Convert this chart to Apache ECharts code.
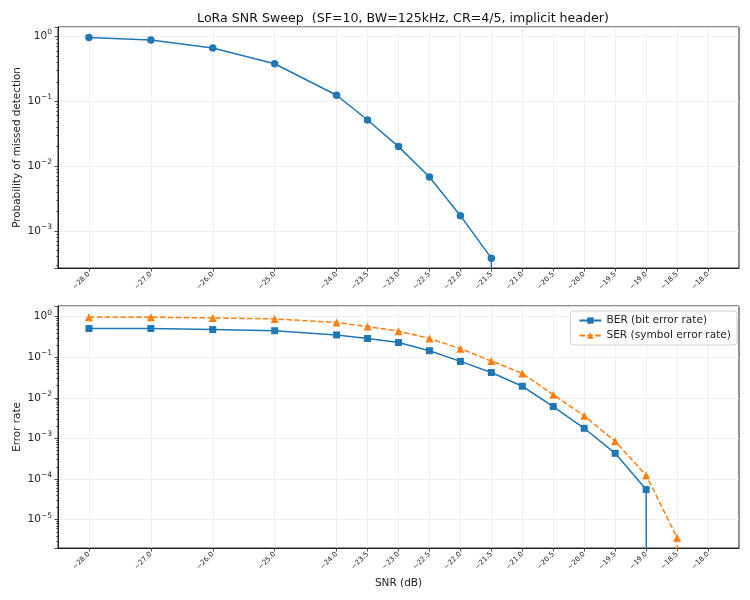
<!DOCTYPE html>
<html>
<head>
<meta charset="utf-8">
<script src="https://cdn.jsdelivr.net/npm/echarts@6/dist/echarts.min.js"></script>
<style>html,body{margin:0;padding:0;background:#fff}#c{width:750px;height:600px}</style>
</head>
<body>
<div id="c"></div>
<script>
const SNR = [-28, -27, -26, -25, -24, -23.5, -23, -22.5, -22, -21.5, -21, -20.5, -20, -19.5, -19, -18.5, -18];
const X_TICKS = [-28, -27, -26, -25, -24, -23.5, -23, -22.5, -22, -21.5, -21, -20.5, -20, -19.5, -19, -18.5, -18];
const P_MISS = [0.96, 0.88, 0.665, 0.38, 0.124, 0.0514, 0.020, 0.0068, 0.00172, 0.00038, 0, 0, 0, 0, 0, 0, 0];
const BER = [0.51, 0.51, 0.48, 0.45, 0.355, 0.29, 0.23, 0.145, 0.079, 0.042, 0.0193, 0.0061, 0.00178, 0.00043, 0.000055, 0, 0];
const SER = [0.97, 0.97, 0.93, 0.88, 0.72, 0.57, 0.44, 0.29, 0.163, 0.081, 0.04, 0.012, 0.0036, 0.00085, 0.000124, 0.0000036, 0];

const FONT = 'DejaVu Sans';
const BLUE = '#1f77b4', ORANGE = '#ff7f0e';
// zeros on a log axis are clipped far below the plot (as matplotlib does)
const FLOOR = 1e-300;
const pairs = (ys) => SNR.map((x, i) => [x, ys[i] > 0 ? ys[i] : FLOOR]);

function fmtX(v) {
  const s = Math.abs(v).toFixed(1);
  return (v < 0 ? '\u2212' : '') + s;
}
function fmtLog(v) {
  const e = Math.log10(v);
  const r = Math.round(e);
  if (Math.abs(e - r) > 1e-3) return '';
  const es = r < 0 ? '\u2212' + (-r) : String(r);
  return '{b|10}{s|' + es + '}';
}

const xAxisBase = (gi, showName) => ({
  type: 'value', gridIndex: gi, min: -28.5, max: -17.5,
  axisLine: { show: true, onZero: false, lineStyle: { color: '#222', width: 1 } },
  axisTick: { show: true, customValues: X_TICKS, length: 3.5, lineStyle: { color: '#222', width: 0.8 } },
  axisLabel: { customValues: X_TICKS, formatter: fmtX, rotate: 45, fontSize: 7, color: '#222', fontFamily: FONT, margin: 5 },
  splitLine: { show: true, customValues: X_TICKS, lineStyle: { color: '#ebebeb', width: 0.8 } },
  name: showName ? 'SNR (dB)' : '', nameLocation: 'middle', nameGap: 30, nameMoveOverlap: false,
  nameTextStyle: { fontSize: 10.5, color: '#222', fontFamily: FONT }
});

const yAxisBase = (gi, min, max, name) => ({
  type: 'log', gridIndex: gi, logBase: 10, min: min, max: max, splitNumber: 6,
  axisLine: { show: true, lineStyle: { color: '#222', width: 1 } },
  axisTick: { show: true, length: 3.5, lineStyle: { color: '#222', width: 0.8 } },
  minorTick: { show: true, splitNumber: 9, length: 2, lineStyle: { color: '#222', width: 0.6 } },
  axisLabel: {
    formatter: fmtLog, color: '#222', fontFamily: FONT, margin: 6,
    showMinLabel: false, showMaxLabel: false,
    rich: {
      b: { fontSize: 10.5, fontFamily: FONT, color: '#222' },
      s: { fontSize: 7.5, fontFamily: FONT, color: '#222', padding: [0, 0, 8, 0] }
    }
  },
  splitLine: { show: true, lineStyle: { color: '#ebebeb', width: 0.8 } },
  name: name, nameLocation: 'middle', nameGap: 36, nameMoveOverlap: false,
  nameTextStyle: { fontSize: 10.4, color: '#222', fontFamily: FONT }
});

const chart = echarts.init(document.getElementById('c'), null, { renderer: 'canvas' });
chart.setOption({
  animation: false,
  backgroundColor: '#fff',
  textStyle: { fontFamily: FONT },
  title: {
    text: 'LoRa SNR Sweep  (SF=10, BW=125kHz, CR=4/5, implicit header)',
    left: 398, top: 7, textAlign: 'center',
    textStyle: { fontSize: 12.6, fontWeight: 'normal', color: '#111', fontFamily: FONT }
  },
  legend: {
    data: ['BER (bit error rate)', 'SER (symbol error rate)'],
    orient: 'vertical', right: 13, top: 311,
    itemWidth: 22, itemHeight: 8, itemGap: 4,
    padding: [4, 6, 4, 8],
    borderColor: '#d0d0d0', borderWidth: 1, borderRadius: 3,
    backgroundColor: 'rgba(255,255,255,0.85)',
    textStyle: { fontSize: 10.6, color: '#222', fontFamily: FONT }
  },
  grid: [
    { left: 58, right: 11, top: 27, height: 241, show: true, borderColor: '#222', borderWidth: 1, backgroundColor: 'transparent', outerBoundsMode: 'none', containLabel: false },
    { left: 58, right: 11, top: 306, height: 242, show: true, borderColor: '#222', borderWidth: 1, backgroundColor: 'transparent', outerBoundsMode: 'none', containLabel: false }
  ],
  xAxis: [xAxisBase(0, false), xAxisBase(1, true)],
  yAxis: [
    yAxisBase(0, 2.68e-4, 1.40, 'Probability of missed detection'),
    yAxisBase(1, 2.0e-6, 1.83, 'Error rate')
  ],
  series: [
    {
      name: 'P_miss', type: 'line', xAxisIndex: 0, yAxisIndex: 0,
      data: pairs(P_MISS), clip: true,
      symbol: 'circle', symbolSize: 7.5,
      lineStyle: { color: BLUE, width: 1.5 }, itemStyle: { color: BLUE }
    },
    {
      name: 'BER (bit error rate)', type: 'line', xAxisIndex: 1, yAxisIndex: 1,
      data: pairs(BER), clip: true,
      symbol: 'rect', symbolSize: 7,
      lineStyle: { color: BLUE, width: 1.5 }, itemStyle: { color: BLUE }
    },
    {
      name: 'SER (symbol error rate)', type: 'line', xAxisIndex: 1, yAxisIndex: 1,
      data: pairs(SER), clip: true,
      symbol: 'triangle', symbolSize: 8,
      lineStyle: { color: ORANGE, width: 1.5, type: [5.5, 2.4] }, itemStyle: { color: ORANGE }
    }
  ]
});
</script>
</body>
</html>
